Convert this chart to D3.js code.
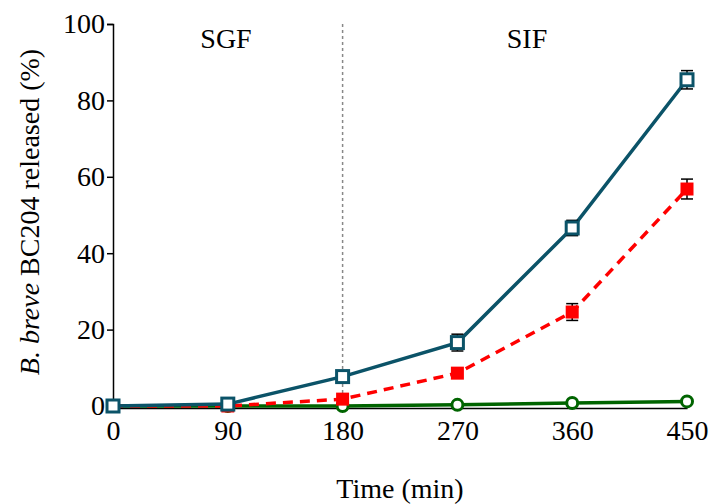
<!DOCTYPE html>
<html><head><meta charset="utf-8">
<script src="https://cdn.jsdelivr.net/npm/d3@7/dist/d3.min.js"></script>
</head><body style="margin:0;background:#fff"><svg id="c" width="712" height="504"></svg>
<script>
const times = [0, 90, 180, 270, 360, 450];
const blueVals = [0, 0.5, 7.7, 16.6, 46.6, 85.4];
const blueErr = [0, 0, 0.6, 2.2, 2.0, 2.4];
const redVals = [0, 0, 1.8, 8.6, 24.6, 56.8];
const redErr = [0, 0, 0, 0, 2.2, 2.6];
const greenVals = [0, 0, 0, 0.3, 0.8, 1.2];
const yTicks = [0, 20, 40, 60, 80, 100];
const xTicks = [0, 90, 180, 270, 360, 450];
const phaseLabels = ["SGF", "SIF"];

const FS = 28;
const FF = '"Liberation Serif"';
const svg = d3.select("#c");
const x = d3.scaleLinear().domain([0, 450]).range([113, 687]);
const y = d3.scaleLinear().domain([0, 100]).range([406, 24]);

// divider
svg.append("line").attr("x1", x(180)).attr("x2", x(180)).attr("y1", y(100)).attr("y2", y(0))
  .attr("stroke", "#888").attr("stroke-width", 1.5).attr("stroke-dasharray", "3,3");

// y axis
const ya = svg.append("g").attr("transform", `translate(${x(0)},0)`)
  .call(d3.axisLeft(y).tickValues(yTicks).tickSize(6).tickPadding(2));
ya.select(".domain").attr("stroke", "#000").attr("stroke-width", 1.5);
ya.selectAll(".tick line").attr("stroke", "#000").attr("stroke-width", 1.5);
ya.selectAll("text").style("font-family", FF).style("font-size", FS + "px").attr("fill", "#000");

// x axis
const xa = svg.append("g").attr("transform", `translate(0,${y(0) + 2})`)
  .call(d3.axisBottom(x).tickValues(xTicks).tickSize(0).tickPadding(12));
xa.select(".domain").attr("stroke", "#000").attr("stroke-width", 1.5);
xa.selectAll("text").style("font-family", FF).style("font-size", FS + "px").attr("fill", "#000");

// labels
svg.append("text").attr("x", 400).attr("y", 498).attr("text-anchor", "middle")
  .style("font-family", FF).style("font-size", FS + "px").text("Time (min)");
const yl = svg.append("text").attr("transform", `translate(39,212) rotate(-90)`)
  .attr("text-anchor", "middle").style("font-family", FF).style("font-size", FS + "px");
yl.append("tspan").style("font-style", "italic").text("B. breve");
yl.append("tspan").text(" BC204 released (%)");

svg.append("text").attr("x", 226).attr("y", 48).attr("text-anchor", "middle").style("font-family", FF).style("font-size", FS + "px").text(phaseLabels[0]);
svg.append("text").attr("x", 527).attr("y", 48).attr("text-anchor", "middle").style("font-family", FF).style("font-size", FS + "px").text(phaseLabels[1]);

function series(vals, errs, color, dash, marker) {
  const pts = times.map((t, i) => ({t, v: vals[i], e: errs ? errs[i] : 0}));
  const line = d3.line().x(d => x(d.t)).y(d => y(d.v));
  svg.append("path").datum(pts).attr("d", line).attr("fill", "none")
    .attr("stroke", color).attr("stroke-width", 3.5).attr("stroke-dasharray", dash || null);
  const eb = svg.append("g");
  pts.filter(d => d.e > 0).forEach(d => {
    const cx = x(d.t);
    eb.append("line").attr("x1", cx).attr("x2", cx).attr("y1", y(d.v + d.e)).attr("y2", y(d.v - d.e)).attr("stroke", "#000").attr("stroke-width", 1.5);
    [d.v + d.e, d.v - d.e].forEach(v => eb.append("line").attr("x1", cx - 6).attr("x2", cx + 6).attr("y1", y(v)).attr("y2", y(v)).attr("stroke", "#000").attr("stroke-width", 1.5));
  });
  const g = svg.append("g");
  pts.forEach(d => {
    if (marker === "osq") g.append("rect").attr("x", x(d.t) - 6).attr("y", y(d.v) - 6).attr("width", 12).attr("height", 12)
      .attr("fill", "#fff").attr("stroke", color).attr("stroke-width", 3);
    else if (marker === "fsq") g.append("rect").attr("x", x(d.t) - 6.5).attr("y", y(d.v) - 6.5).attr("width", 13).attr("height", 13).attr("fill", color);
    else g.append("circle").attr("cx", x(d.t)).attr("cy", y(d.v)).attr("r", 5.5).attr("fill", "#fff").attr("stroke", color).attr("stroke-width", 3);
  });
}
series(greenVals, null, "#006400", null, "oc");
series(redVals, redErr, "#ff0000", "10,7", "fsq");
series(blueVals, blueErr, "#0b5368", null, "osq");
</script></body></html>
